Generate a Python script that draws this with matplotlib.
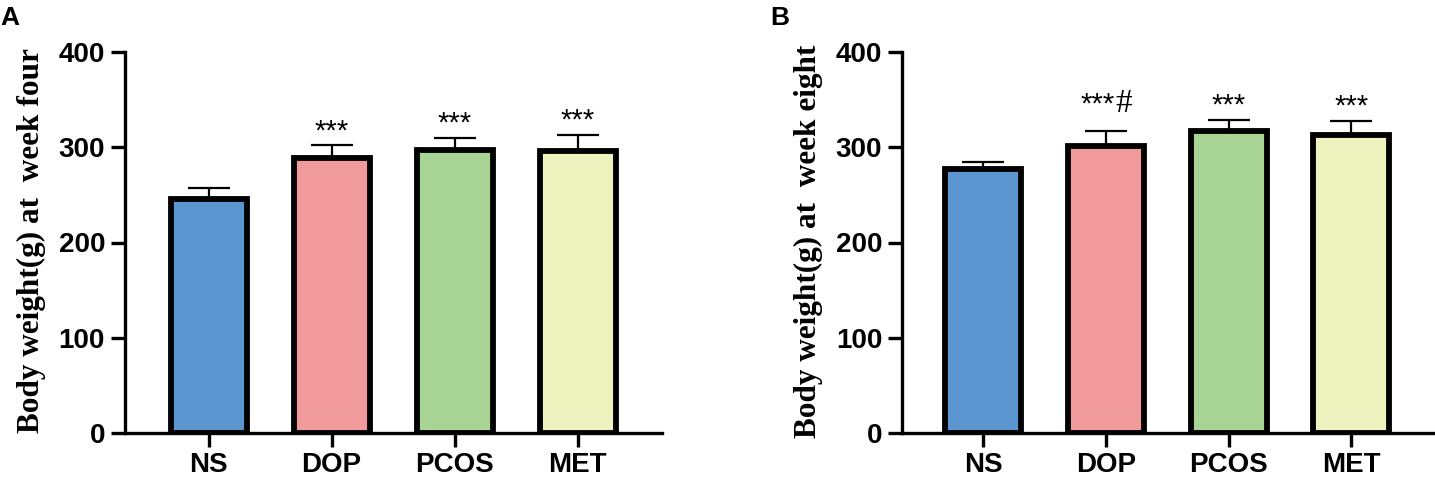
import matplotlib
matplotlib.use("Agg")
import matplotlib.pyplot as plt
import numpy as np

groups = ["NS", "DOP", "PCOS", "MET"]
colors = ["#5B96D0", "#F09A9B", "#A8D495", "#EEF2BF"]

week4_mean = [246, 289, 297, 296]
week4_err = [11, 13, 13, 17]
week4_sig = ["", "***", "***", "***"]

week8_mean = [277, 301, 317, 313]
week8_err = [8, 16, 12, 15]
week8_sig = ["", "***", "***", "***"]
week8_hash = ["", "#", "", ""]

yticks = [0, 100, 200, 300, 400]

W, H = 1435, 480
fig = plt.figure(figsize=(W / 100, H / 100), dpi=100)

sans = ["Liberation Sans", "DejaVu Sans"]
serif = ["Liberation Serif", "DejaVu Serif"]


def panel(left_px, right_px, xlim, means, errs, sigs, hashes, ylabel, label_x_px, letter, letter_x_px):
    ax = fig.add_axes([left_px / W, (H - 433) / H, (right_px - left_px) / W, (433 - 52) / H])
    x = np.arange(len(groups))
    ax.errorbar(x, means, yerr=[np.zeros(len(errs)), errs], fmt="none", ecolor="black",
                elinewidth=1.6, capsize=14.8, capthick=1.6, zorder=1)
    ax.bar(x, means, width=0.618, color=colors, edgecolor="black", linewidth=4.2, zorder=2)
    ax.set_xlim(*xlim)
    ax.set_ylim(0, 400)
    ax.set_yticks(yticks)
    ax.set_yticklabels([str(v) for v in yticks], fontfamily=sans, fontweight="bold", fontsize=20)
    ax.set_xticks(x)
    ax.set_xticklabels(groups, fontfamily=sans, fontweight="bold", fontsize=20)
    for s in ["top", "right"]:
        ax.spines[s].set_visible(False)
    for s in ["left", "bottom"]:
        ax.spines[s].set_linewidth(2.4)
    ax.tick_params(axis="both", width=2.4, length=10, pad=4)
    for i in range(len(groups)):
        top = means[i] + errs[i]
        if sigs[i] and hashes[i]:
            ax.annotate(sigs[i], (x[i], top), xytext=(6.5, 13.5), textcoords="offset points",
                        ha="right", va="baseline", fontsize=21, fontfamily=sans)
            ax.annotate(hashes[i], (x[i], top), xytext=(6.5, 13.5), textcoords="offset points",
                        ha="left", va="baseline", fontsize=24, fontfamily=serif)
        elif sigs[i]:
            ax.annotate(sigs[i], (x[i], top), xytext=(0, 4.5), textcoords="offset points",
                        ha="center", va="baseline", fontsize=21, fontfamily=sans)
    fig.text(label_x_px / W, 1 - 241 / H, ylabel, rotation=90, ha="center", va="center",
             fontsize=22.5, fontweight="bold", fontfamily=serif)
    fig.text(letter_x_px / W, 1 - 6 / H, letter, ha="left", va="top", fontsize=19,
             fontweight="bold", fontfamily=sans)
    return ax


panel(124.5, 662, (-0.683, 3.684), week4_mean, week4_err, week4_sig, ["", "", "", ""],
      "Body weight(g) at  week four", 31, "A", 0)
panel(901.7, 1436, (-0.666, 3.69), week8_mean, week8_err, week8_sig, week8_hash,
      "Body weight(g) at  week eight", 808, "B", 770)

fig.savefig("out.png", dpi=100)
